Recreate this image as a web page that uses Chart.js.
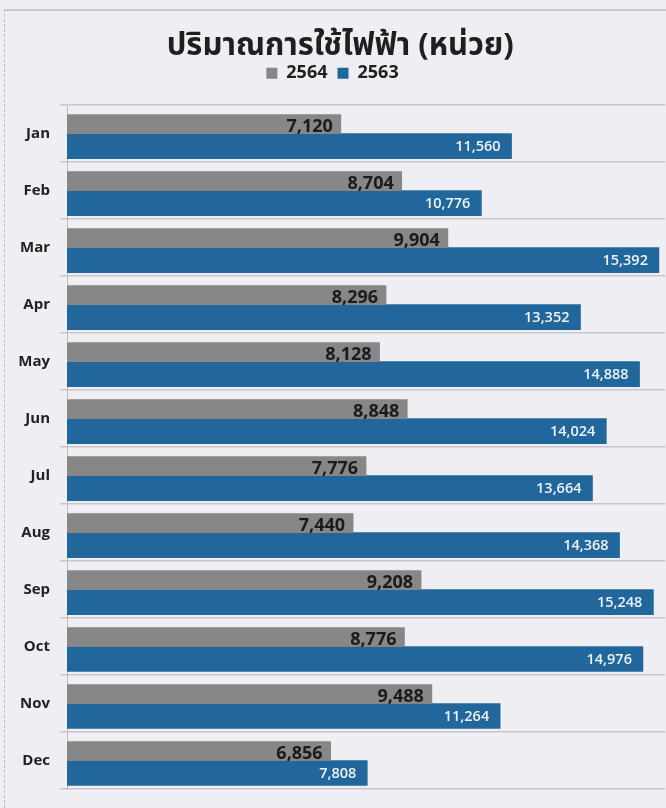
<!DOCTYPE html>
<html>
<head>
<meta charset="utf-8">
<script src="https://cdn.jsdelivr.net/npm/chart.js@4.4.0/dist/chart.umd.min.js"></script>
<style>
  html, body { margin: 0; padding: 0; background: #eeeef3; }
  #wrap { position: relative; width: 666px; height: 808px; }
  #frame { position: absolute; left: 4px; top: 9px; right: 0; bottom: 0;
           border-top: 2px solid #c9c9cf; border-left: 1px dashed #bdbdc4; }
  canvas { position: absolute; left: 0; top: 0; }
</style>
</head>
<body>
<div id="wrap">
  <div id="frame"></div>
  <canvas id="c" width="666" height="808"></canvas>
</div>
<script>
// ========= data =========
const months = ['Jan','Feb','Mar','Apr','May','Jun','Jul','Aug','Sep','Oct','Nov','Dec'];
const use2564 = [7120, 8704, 9904, 8296, 8128, 8848, 7776, 7440, 9208, 8776, 9488, 6856];
const use2563 = [11560, 10776, 15392, 13352, 14888, 14024, 13664, 14368, 15248, 14976, 11264, 7808];
const titleText = 'ปริมาณการใช้ไฟฟ้า (หน่วย)';

const GRAY = '#878787';
const BLUE = '#22679c';
const FONT = "'Open Sans', sans-serif";
const fmt = v => v.toLocaleString('en-US');

// ป้ายตัวเลขท้ายแท่ง (ไม่มี datalabels ในเครื่อง เลยวาดเอง)
const barLabels = {
  id: 'barLabels',
  afterDatasetsDraw(chart) {
    const ctx = chart.ctx;
    ctx.save();
    ctx.textAlign = 'right';
    ctx.textBaseline = 'middle';
    chart.data.datasets.forEach((ds, di) => {
      const meta = chart.getDatasetMeta(di);
      meta.data.forEach((bar, i) => {
        const v = ds.data[i];
        if (di === 0) {
          ctx.font = `bold 18px ${FONT}`;
          ctx.fillStyle = '#1b1b1b';
          ctx.fillText(fmt(v), bar.x - 8, bar.y + 3);
        } else {
          ctx.font = `600 14.5px ${FONT}`;
          ctx.fillStyle = '#eef2f7';
          ctx.fillText(fmt(v), bar.x - 11, bar.y + 1);
        }
      });
    });
    ctx.restore();
  }
};

new Chart(document.getElementById('c').getContext('2d'), {
  type: 'bar',
  data: {
    labels: months,
    datasets: [
      { label: '2564', data: use2564, backgroundColor: GRAY, barThickness: 19 },
      { label: '2563', data: use2563, backgroundColor: BLUE, barThickness: 25 }
    ]
  },
  options: {
    indexAxis: 'y',
    responsive: false,
    animation: false,
    categoryPercentage: 0.764,
    barPercentage: 1,
    layout: { padding: { top: 0, left: 0, right: 1, bottom: 12 } },
    plugins: {
      title: {
        display: true,
        text: '\u2002' + titleText,
        color: '#1f1f1f',
        font: { family: "'Noto Sans Thai', Tahoma, " + FONT, size: 31, weight: 'bold', lineHeight: 1.2 },
        padding: { top: 30, bottom: -13 }
      },
      legend: {
        display: true,
        labels: {
          boxWidth: 11,
          boxHeight: 11,
          color: '#1f1f1f',
          font: { family: FONT, size: 18, weight: 'bold' },
          padding: 10
        }
      },
      tooltip: { enabled: false }
    },
    scales: {
      x: {
        position: 'top', min: 0, max: 15550,
        afterFit: (s) => { s.height = 13; },
        ticks: { display: false },
        grid: { display: false },
        border: { display: false }
      },
      y: {
        afterFit: (s) => { s.width = 67; },
        border: { display: true, color: '#bcbcc2', width: 1 },
        grid: { color: '#c6c6cc', lineWidth: 1.5, tickLength: 7, offset: true },
        ticks: {
          color: '#222',
          padding: 10,
          font: { family: FONT, size: 15, weight: 'bold' }
        }
      }
    }
  },
  plugins: [barLabels]
});
</script>
</body>
</html>
